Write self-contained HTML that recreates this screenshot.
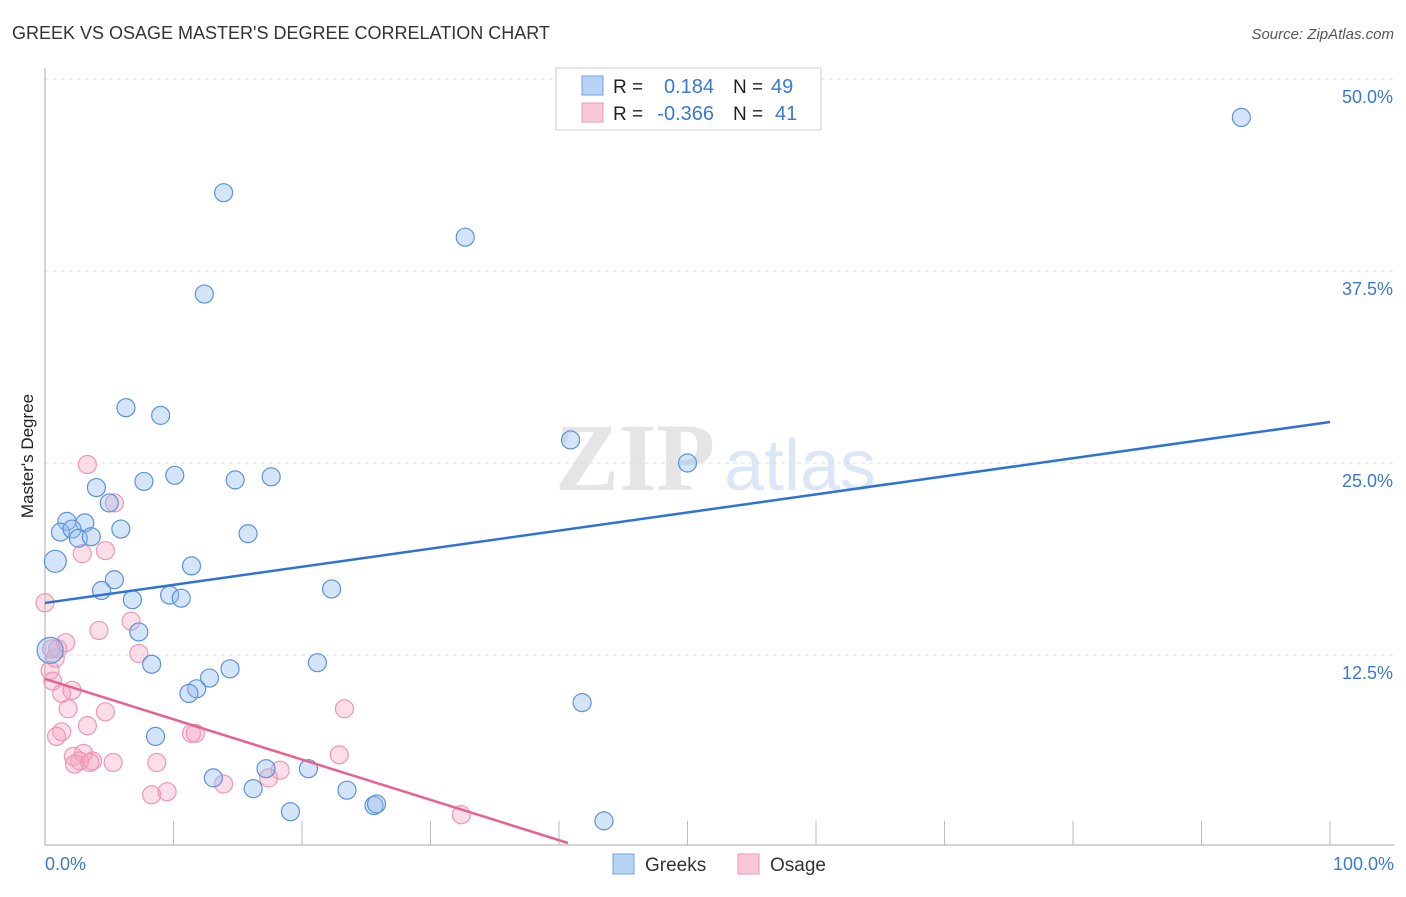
<!DOCTYPE html>
<html><head><meta charset="utf-8"><style>
body{margin:0;background:#fff;font-family:"Liberation Sans",sans-serif}
</style></head><body>
<svg width="1406" height="892" viewBox="0 0 1406 892">
<text x="12" y="39" font-size="18" fill="#333">GREEK VS OSAGE MASTER'S DEGREE CORRELATION CHART</text>
<text x="1394" y="39" font-size="15" fill="#555" font-style="italic" text-anchor="end">Source: ZipAtlas.com</text>
<text x="0" y="0" font-size="17" fill="#222" transform="translate(33,456) rotate(-90)" text-anchor="middle">Master's Degree</text>
<g opacity="0.5">
<text x="635" y="490" font-size="96" font-family="Liberation Serif,serif" fill="#ccc" text-anchor="middle" font-weight="bold">ZIP</text>
<text x="800" y="490" font-size="72" fill="#b9cff0" text-anchor="middle">atlas</text>
</g>
<g id="grid"></g>
<line x1="45" y1="68" x2="45" y2="845" stroke="#aaa"/>
<line x1="45" y1="845" x2="1394" y2="845" stroke="#aaa"/>
<g id="marks"></g>
<text x="45" y="870" font-size="18" fill="#3a78d4">0.0%</text>
<text x="1394" y="870" font-size="18" fill="#3a78d4" text-anchor="end">100.0%</text>
<g>
<rect x="556" y="68" width="265" height="62" fill="#fff" stroke="#ccc"/>
<rect x="582" y="76" width="21" height="19" fill="#b8d4f5" stroke="#6ea2e6"/>
<rect x="582" y="103" width="21" height="19" fill="#f9c8d8" stroke="#ee97b3"/>
<text x="613" y="93" font-size="19" fill="#222">R =</text>
<text x="714" y="93" font-size="20" fill="#3a78d4" text-anchor="end">0.184</text>
<text x="733" y="93" font-size="19" fill="#222">N =</text>
<text x="771" y="93" font-size="20" fill="#3a78d4">49</text>
<text x="613" y="120" font-size="19" fill="#222">R =</text>
<text x="714" y="120" font-size="20" fill="#3a78d4" text-anchor="end">-0.366</text>
<text x="733" y="120" font-size="19" fill="#222">N =</text>
<text x="775" y="120" font-size="20" fill="#3a78d4">41</text>
</g>
<g>
<rect x="613" y="854" width="21" height="20" fill="#b8d4f5" stroke="#6ea2e6"/>
<text x="645" y="871" font-size="19" fill="#333">Greeks</text>
<rect x="738" y="854" width="21" height="20" fill="#f9c8d8" stroke="#ee97b3"/>
<text x="770" y="871" font-size="19" fill="#333">Osage</text>
</g>
</svg>
<script>
const yTicks=[12.5,25,37.5,50];
const yTickLabels=["12.5%","25.0%","37.5%","50.0%"];
const xTicks=[10,20,30,40,50,60,70,80,90,100];
const greeksX=[93.1,13.9,32.7,12.4,6.3,9.0,40.9,50.0,10.1,14.8,17.6,7.7,4.0,5.0,1.7,3.1,5.9,15.8,1.2,2.1,2.6,3.6,0.8,11.4,22.3,5.4,4.4,6.8,9.7,10.6,7.3,0.4,8.3,21.2,14.4,12.8,11.8,11.2,41.8,8.6,13.1,17.2,20.5,16.2,23.5,25.6,25.8,19.1,43.5];
const greeksY=[47.5,42.6,39.7,36.0,28.6,28.1,26.5,25.0,24.2,23.9,24.1,23.8,23.4,22.4,21.2,21.1,20.7,20.4,20.5,20.7,20.1,20.2,18.6,18.3,16.8,17.4,16.7,16.1,16.4,16.2,14.0,12.8,11.9,12.0,11.6,11.0,10.3,10.0,9.4,7.2,4.5,5.1,5.1,3.8,3.7,2.7,2.8,2.3,1.7];
const greeksR=[9,9,9,9,9,9,9,9,9,9,9,9,9,9,9,9,9,9,9,9,9,9,11,9,9,9,9,9,9,9,9,13,9,9,9,9,9,9,9,9,9,9,9,9,9,9,9,9,9];
const osageX=[3.3,5.4,2.9,4.7,0.0,6.7,4.2,1.6,0.5,0.8,0.4,0.6,1.3,2.1,1.8,7.3,4.7,3.3,1.3,0.9,11.4,11.7,23.3,3.0,2.2,2.7,3.7,2.3,3.5,5.3,8.7,22.9,18.3,17.4,13.9,8.3,9.5,32.4,1.0];
const osageY=[24.9,22.4,19.1,19.3,15.9,14.7,14.1,13.3,12.9,12.3,11.5,10.8,10.0,10.2,9.0,12.6,8.8,7.9,7.5,7.2,7.4,7.4,9.0,6.1,5.9,5.6,5.6,5.4,5.5,5.5,5.5,6.0,5.0,4.5,4.1,3.4,3.6,2.1,12.9];
const trendBlue=[15.89,27.67];
const trendPinkStart=10.94, trendPinkSlope=-0.2624, trendPinkEnd=40.7;
const X=v=>45+v*12.85, Y=v=>847-v*15.36;
const NS="http://www.w3.org/2000/svg";
const grid=document.getElementById('grid'), marks=document.getElementById('marks'), svg=document.querySelector('svg');
function mk(tag,attrs,parent){const e=document.createElementNS(NS,tag);for(const k in attrs)e.setAttribute(k,attrs[k]);parent.appendChild(e);return e;}
yTicks.forEach((t,i)=>{
 const l=mk('line',{x1:45,x2:1394,y1:Y(t),y2:Y(t),stroke:'#ddd','stroke-dasharray':'4,4'},grid);
 
 
 const tx=mk('text',{x:1393,y:Y(t)+24,'font-size':18,fill:'#3a78d4','text-anchor':'end'},svg);
 tx.textContent=yTickLabels[i];
 
 
});
xTicks.forEach(t=>{
 const l=mk('line',{x1:X(t),x2:X(t),y1:821,y2:845,stroke:'#bbb'},grid);
 
 
});
osageX.forEach((x,i)=>{
 const c=mk('circle',{cx:X(x),cy:Y(osageY[i]),r:9,fill:'rgba(244,160,188,0.35)',stroke:'#ee97b3','stroke-width':1.2},marks);
 
 
});
greeksX.forEach((x,i)=>{
 const c=mk('circle',{cx:X(x),cy:Y(greeksY[i]),r:greeksR[i],fill:'rgba(150,190,240,0.4)',stroke:'#5a92dd','stroke-width':1.2},marks);
 
 
});
const bl=mk('line',{x1:X(0),y1:Y(trendBlue[0]),x2:X(100),y2:Y(trendBlue[1]),stroke:'#2f72d6','stroke-width':2.5},marks);


const pl=mk('line',{x1:X(0),y1:Y(trendPinkStart),x2:X(trendPinkEnd),y2:Y(trendPinkStart+trendPinkSlope*trendPinkEnd),stroke:'#e8628e','stroke-width':2.5},marks);


</script>
</body></html>
